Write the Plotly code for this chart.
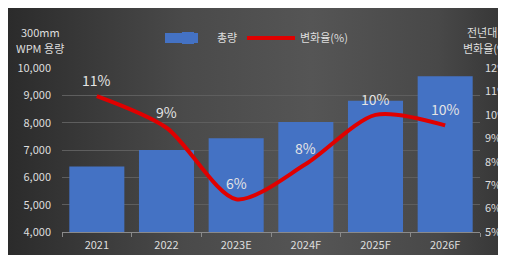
import plotly.graph_objects as go
import urllib.parse

categories = ["2021", "2022", "2023E", "2024F", "2025F", "2026F"]
capacity = [6400, 7000, 7430, 8020, 8800, 9700]
change_pct = [10.8, 9.45, 6.4, 7.9, 10.0, 9.55]
change_labels = ["11%", "9%", "6%", "8%", "10%", "10%"]

left_ticks = [4000, 5000, 6000, 7000, 8000, 9000, 10000]
left_tick_text = ["4,000", "5,000", "6,000", "7,000", "8,000", "9,000", "10,000"]
right_ticks = [5, 6, 7, 8, 9, 10, 11, 12]
right_tick_text = ["5%", "6%", "7%", "8%", "9%", "10%", "11%", "12%"]

# figure sits in the page with the default 8px body margin
OFF = 8
W, H = 506, 255
ML, MR, MT, MB = 54, 34, 60, 31
PW, PH = W - ML - MR, H - MT - MB

def px_x(page_x):
    return (page_x - OFF - ML) / PW

def px_y(page_y):
    return (H - MB - (page_y - OFF)) / PH

FONT = "Noto Sans CJK KR"
TXT = "#dedede"

svg = (
    "<svg xmlns='http://www.w3.org/2000/svg' width='500' height='250' preserveAspectRatio='none'>"
    "<defs><linearGradient id='g' x1='0' y1='0' x2='1' y2='0'>"
    "<stop offset='0' stop-color='#2b2b2b'/>"
    "<stop offset='0.35' stop-color='#4a4a4a'/>"
    "<stop offset='0.6' stop-color='#555555'/>"
    "<stop offset='0.85' stop-color='#484848'/>"
    "<stop offset='1' stop-color='#343434'/>"
    "</linearGradient></defs>"
    "<rect width='500' height='250' fill='url(#g)'/></svg>"
)
src = "data:image/svg+xml;charset=utf-8," + urllib.parse.quote(svg)

fig = go.Figure()
fig.add_trace(go.Bar(
    x=categories, y=capacity, name="총량",
    marker=dict(color="#4472C4", line=dict(width=0)),
    yaxis="y", legend="legend",
))
fig.add_trace(go.Scatter(
    x=categories, y=change_pct, name="변화율(%)",
    mode="lines",
    line=dict(color="#e00000", width=4, shape="spline", smoothing=0.8),
    yaxis="y2", cliponaxis=False, legend="legend2",
))

annotations = [
    dict(x=i, y=v, xref="x", yref="y2", text=t, showarrow=False,
         yshift=16, font=dict(family=FONT, size=14, color="#e4e4e4"))
    for i, (v, t) in enumerate(zip(change_pct, change_labels))
]
for txt, px, py in [("300mm", 40, 32), ("WPM 용량", 40, 48),
                    ("전년대비", 487, 32), ("변화율(%)", 487, 48)]:
    annotations.append(dict(
        text=txt, xref="paper", yref="paper", x=px_x(px), y=px_y(py),
        xanchor="center", yanchor="middle", showarrow=False,
        font=dict(family=FONT, size=11, color=TXT)))

legend_common = dict(
    orientation="h", yanchor="middle", bgcolor="rgba(0,0,0,0)",
    font=dict(family=FONT, size=11, color=TXT), itemwidth=48,
)

fig.update_layout(
    width=W, height=H,
    margin=dict(l=ML, r=MR, t=MT, b=MB, autoexpand=False),
    paper_bgcolor="#3c3c3c",
    plot_bgcolor="rgba(0,0,0,0)",
    font=dict(family=FONT, size=11, color=TXT),
    bargap=0.21,
    showlegend=True,
    legend=dict(x=px_x(159), y=px_y(38), xanchor="left", **legend_common),
    legend2=dict(x=px_x(242), y=px_y(38), xanchor="left", **legend_common),
    xaxis=dict(
        type="category", range=[-0.5, len(categories) - 0.5],
        showgrid=False, showline=True, linecolor="#8a8a8a", linewidth=1,
        ticks="outside", tickson="boundaries", ticklen=4, tickcolor="#8a8a8a",
        tickfont=dict(family=FONT, size=11, color=TXT), ticklabelstandoff=3,
    ),
    yaxis=dict(
        range=[4000, 10000], tickvals=left_ticks, ticktext=left_tick_text,
        showgrid=True, gridcolor="#5e5e5e", gridwidth=1, zeroline=False,
        tickfont=dict(family=FONT, size=11, color=TXT), ticklabelstandoff=10,
    ),
    yaxis2=dict(
        range=[5, 12], tickvals=right_ticks, ticktext=right_tick_text,
        overlaying="y", side="right", showgrid=False, zeroline=False,
        tickfont=dict(family=FONT, size=11, color=TXT), ticklabelstandoff=4,
    ),
    images=[dict(
        source=src, xref="paper", yref="paper",
        x=-ML / PW, y=(H - MB) / PH, sizex=W / PW, sizey=H / PH,
        xanchor="left", yanchor="top", sizing="stretch", layer="below",
    )],
    shapes=[dict(
        type="rect", xref="paper", yref="paper", layer="below",
        x0=px_x(165), x1=px_x(198), y0=px_y(43), y1=px_y(33),
        fillcolor="#4472C4", line=dict(width=0),
    )],
    annotations=annotations,
)

fig.write_html("out.html")
